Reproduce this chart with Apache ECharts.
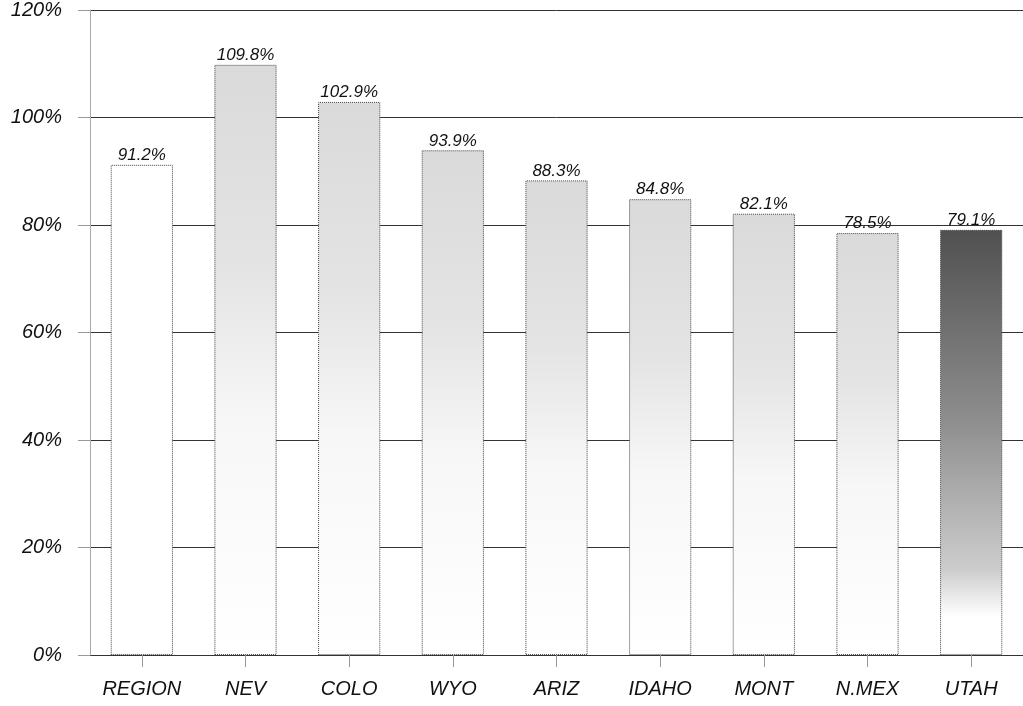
<!DOCTYPE html>
<html>
<head>
<meta charset="utf-8">
<script src="https://cdn.jsdelivr.net/npm/echarts@6/dist/echarts.min.js"></script>
<style>
  html, body { margin: 0; padding: 0; background: #fff; }
  #main { width: 1023px; height: 706px; }
</style>
</head>
<body>
<div id="main"></div>
<script>
// categories and values
const states = ['REGION', 'NEV', 'COLO', 'WYO', 'ARIZ', 'IDAHO', 'MONT', 'N.MEX', 'UTAH'];
const rates = [91.2, 109.8, 102.9, 93.9, 88.3, 84.8, 82.1, 78.5, 79.1];

const font = '"Liberation Sans", Arial, sans-serif';

// light stipple-like fade for the states, plain white for the region, dark for Utah
const fillFor = (name) => {
  if (name === 'REGION') return '#ffffff';
  if (name === 'UTAH') {
    return new echarts.graphic.LinearGradient(0, 0, 0, 1, [
      { offset: 0, color: '#505050' },
      { offset: 0.45, color: '#8e8e8e' },
      { offset: 0.8, color: '#cdcdcd' },
      { offset: 0.91, color: '#ffffff' },
      { offset: 1, color: '#ffffff' }
    ]);
  }
  return new echarts.graphic.LinearGradient(0, 0, 0, 1, [
    { offset: 0, color: '#dadada' },
    { offset: 0.35, color: '#e4e4e4' },
    { offset: 0.6, color: '#f7f7f7' },
    { offset: 1, color: '#ffffff' }
  ]);
};

const seriesData = rates.map((v, i) => ({
  value: v,
  itemStyle: {
    color: fillFor(states[i]),
    borderColor: '#444',
    borderWidth: 1,
    borderType: 'dotted'
  }
}));

const option = {
  animation: false,
  backgroundColor: '#fff',
  grid: { left: 90, right: 0, top: 8, bottom: 51 },
  xAxis: {
    type: 'category',
    data: states,
    axisLine: { show: false },
    axisTick: { show: true, alignWithLabel: true, length: 12, lineStyle: { color: '#999' } },
    axisLabel: { margin: 24, fontFamily: font, fontStyle: 'italic', fontSize: 20, color: '#111' }
  },
  yAxis: {
    type: 'value',
    min: 0,
    max: 120,
    interval: 20,
    axisLine: { show: true, lineStyle: { color: '#aaa' } },
    axisTick: { show: true, length: 12, lineStyle: { color: '#999' } },
    axisLabel: { margin: 28, formatter: '{value}%', fontFamily: font, fontStyle: 'italic', fontSize: 20, color: '#111' },
    splitLine: { show: true, lineStyle: { color: '#333', width: 1 } }
  },
  series: [{
    type: 'bar',
    data: seriesData,
    barCategoryGap: '40%',
    label: {
      show: true,
      position: 'top',
      distance: 1,
      formatter: (p) => p.value.toFixed(1) + '%',
      fontFamily: font,
      fontStyle: 'italic',
      fontSize: 17,
      color: '#111'
    }
  }]
};

const chart = echarts.init(document.getElementById('main'));
chart.setOption(option);
</script>
</body>
</html>
